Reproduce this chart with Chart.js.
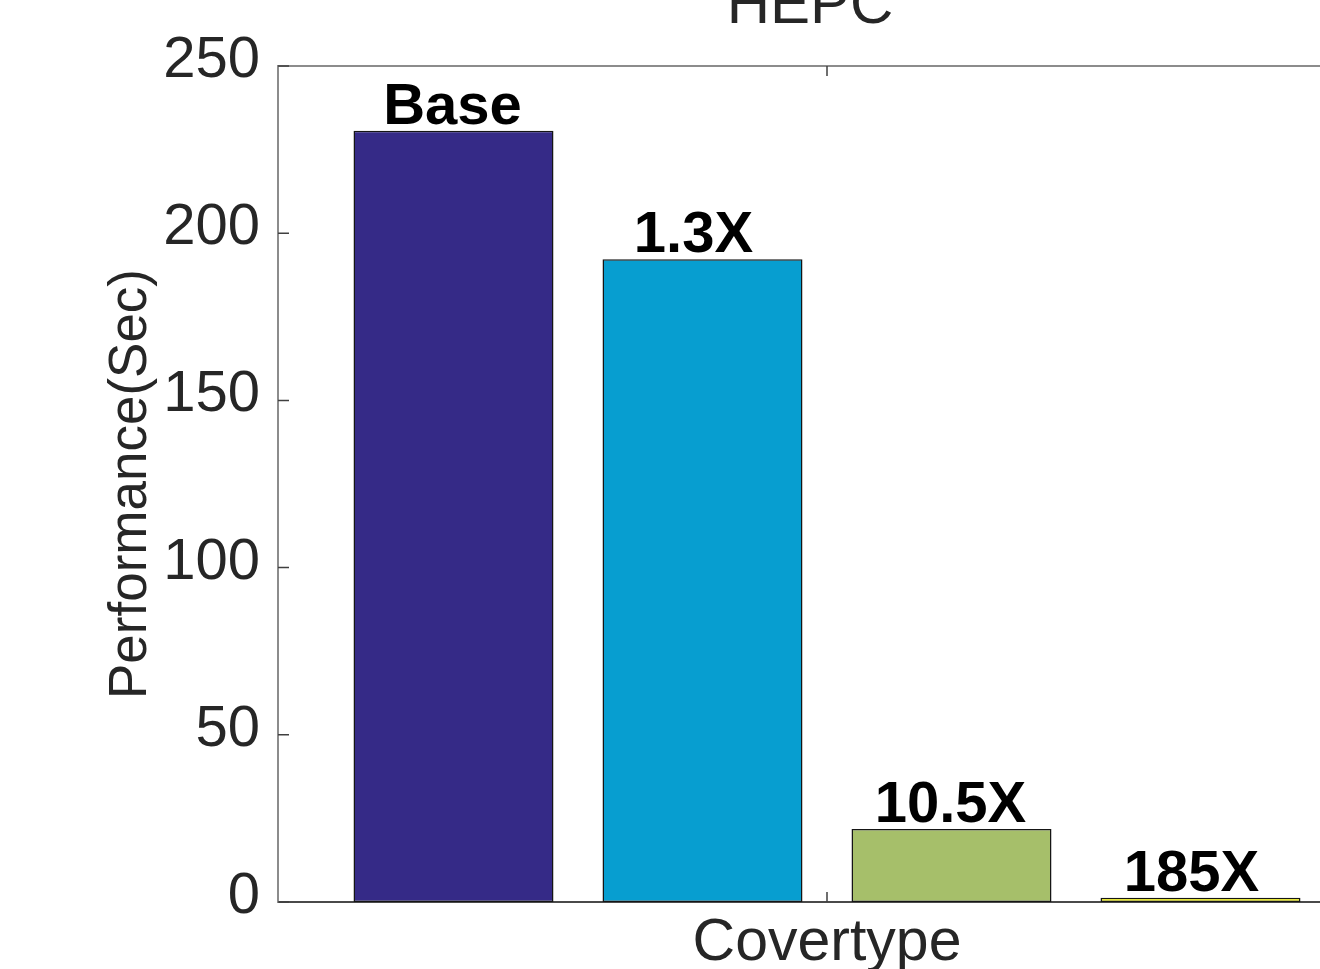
<!DOCTYPE html>
<html>
<head>
<meta charset="utf-8">
<script src="https://cdn.jsdelivr.net/npm/chart.js@4.4.1/dist/chart.umd.min.js"></script>
<style>
  html, body { margin: 0; padding: 0; background: #ffffff; overflow: hidden; width: 1320px; height: 969px; }
  #wrap { position: absolute; left: 0; top: -80px; width: 1420px; height: 1100px; }
</style>
</head>
<body>
<div id="wrap"><canvas id="c" width="1420" height="1100"></canvas></div>
<script>
// ---- data ----
const categories = ["Covertype"];
const seriesNames = ["Base", "1.3X ", "10.5X", "185X "];
const seriesValues = [230.6, 192.2, 21.8, 1.3];
const seriesColors = ["#352a87", "#079ed0", "#a6bf6a", "#f4f40e"];
const yTicks = [0, 50, 100, 150, 200, 250];
const chartTitle = "HEPC";
const yLabel = "Performance(Sec)";

const FONT = "'Liberation Sans', Arial, Helvetica, sans-serif";

const datasets = seriesNames.map((name, i) => ({
  label: name,
  data: [seriesValues[i]],
  backgroundColor: seriesColors[i],
  borderColor: "#151515",
  borderWidth: 1.5,
  borderSkipped: false,
  categoryPercentage: 996 / 1098,
  barPercentage: 200 / 249
}));

const framePlugin = {
  id: "frame",
  afterDraw(chart) {
    const ctx = chart.ctx;
    const a = chart.chartArea;
    const xs = chart.scales.x, ys = chart.scales.y;
    ctx.save();
    // title
    ctx.font = "60px " + FONT;
    ctx.fillStyle = "#262626";
    ctx.textAlign = "center";
    ctx.textBaseline = "alphabetic";
    ctx.fillText(chartTitle, (a.left + a.right) / 2 - 17, a.top - 43);
    // top / right box lines
    ctx.strokeStyle = "#8c8c8c";
    ctx.lineWidth = 2;
    ctx.beginPath();
    ctx.moveTo(a.left, a.top);
    ctx.lineTo(a.right, a.top);
    ctx.moveTo(a.right, a.top);
    ctx.lineTo(a.right, a.bottom);
    ctx.stroke();
    // inward ticks
    ctx.strokeStyle = "#404040";
    ctx.lineWidth = 1.5;
    ctx.beginPath();
    ys.ticks.forEach((t, i) => {
      const py = ys.getPixelForTick(i);
      ctx.moveTo(a.left, py); ctx.lineTo(a.left + 11, py);
      ctx.moveTo(a.right, py); ctx.lineTo(a.right - 11, py);
    });
    xs.ticks.forEach((t, i) => {
      const px = xs.getPixelForValue(i);
      ctx.moveTo(px, a.bottom); ctx.lineTo(px, a.bottom - 10);
      ctx.moveTo(px, a.top); ctx.lineTo(px, a.top + 10);
    });
    ctx.stroke();
    ctx.restore();
  },
  afterDatasetsDraw(chart) {
    const ctx = chart.ctx;
    ctx.save();
    ctx.font = "bold 58px " + FONT;
    ctx.fillStyle = "#000000";
    ctx.textAlign = "center";
    ctx.textBaseline = "alphabetic";
    chart.data.datasets.forEach((ds, di) => {
      const meta = chart.getDatasetMeta(di);
      meta.data.forEach(el => {
        ctx.fillText(ds.label, el.x - 1, el.y - 7);
      });
    });
    ctx.restore();
  }
};

new Chart(document.getElementById("c"), {
  type: "bar",
  data: { labels: categories, datasets },
  plugins: [framePlugin],
  options: {
    responsive: false,
    devicePixelRatio: 1,
    animation: false,
    layout: { padding: { left: 0, right: 44, top: 146, bottom: 0 } },
    plugins: {
      legend: { display: false },
      tooltip: { enabled: false },
      title: { display: false }
    },
    scales: {
      x: {
        type: "category",
        offset: true,
        grid: { display: false, drawTicks: false },
        border: { display: true, color: "#4a4a4a", width: 2 },
        ticks: {
          color: "#262626",
          font: { family: FONT, size: 59 },
          padding: 6,
          maxRotation: 0
        },
        afterFit(scale) { scale.height = 118; }
      },
      y: {
        min: 0,
        max: 250,
        afterBuildTicks(scale) { scale.ticks = yTicks.map(v => ({ value: v })); },
        grid: { display: false, drawTicks: false },
        border: { display: true, color: "#8c8c8c", width: 2 },
        ticks: {
          color: "#262626",
          font: { family: FONT, size: 58 },
          padding: 18,
          labelOffset: -5
        },
        title: {
          display: true,
          text: yLabel,
          color: "#262626",
          font: { family: FONT, size: 53 },
          padding: { top: 100, bottom: 0 }
        },
        afterFit(scale) { scale.width = 278; }
      }
    }
  }
});
</script>
</body>
</html>
